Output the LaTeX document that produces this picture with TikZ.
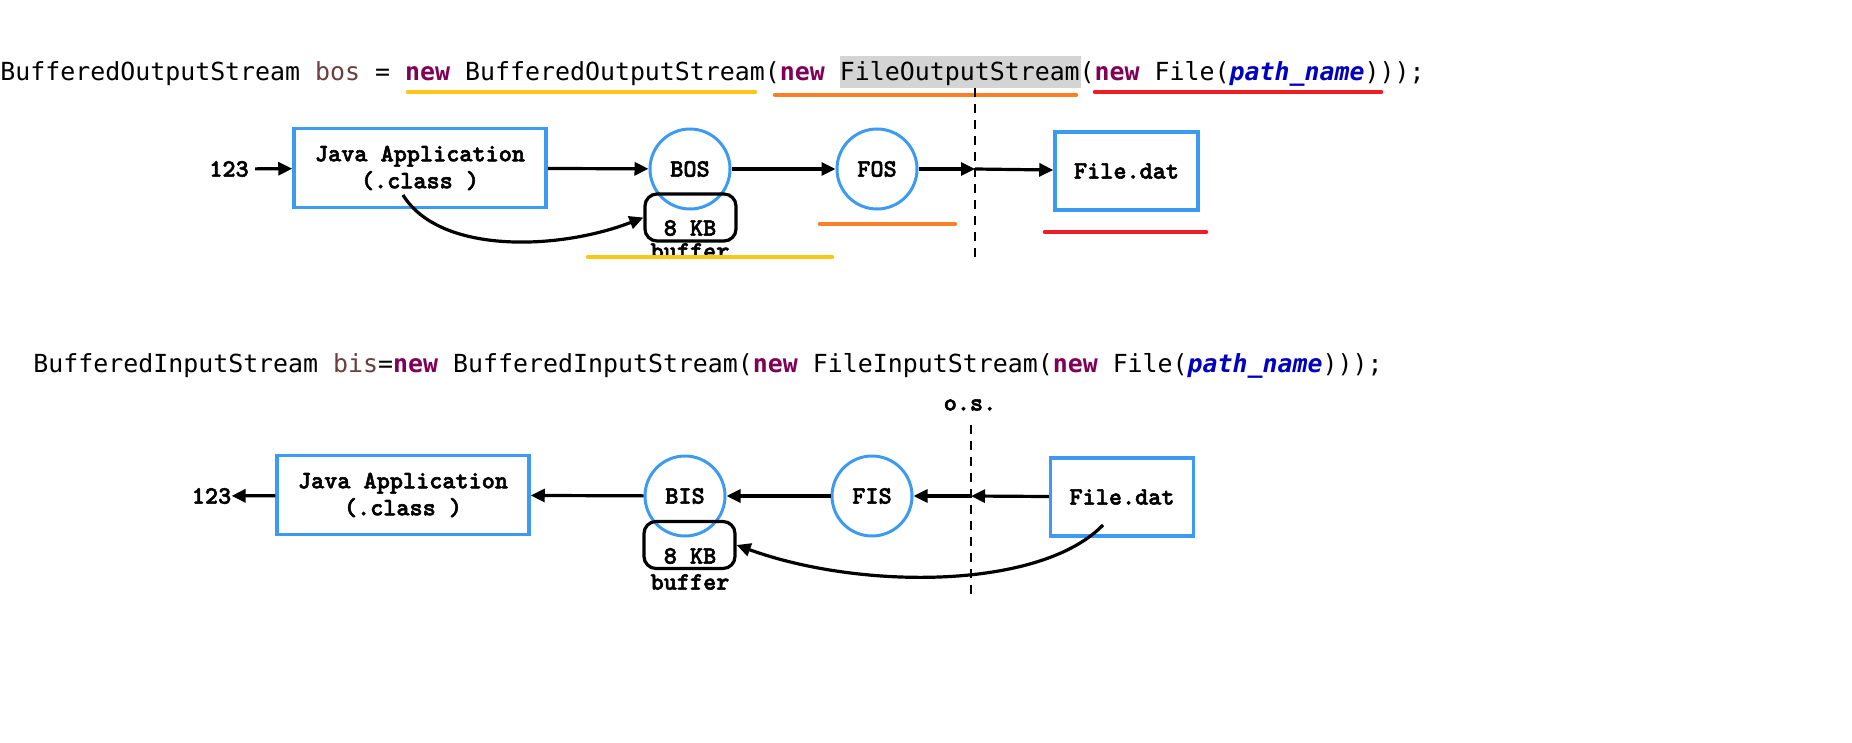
\documentclass[tikz,border=0pt]{standalone}
\usepackage{fontspec}
\usepackage{xcolor}
\usepackage{tikz}
\usetikzlibrary{arrows.meta,calc}

\newfontfamily\codefont{DejaVu Sans Mono}
\newfontfamily\diagfont{lmmonolt10-bold}[Extension=.otf,FakeBold=2.2]
\definecolor{boxblue}{HTML}{3D9AF2}
\definecolor{kwpurple}{HTML}{7F0055}
\definecolor{varbrown}{HTML}{6A3E3E}
\definecolor{argblue}{HTML}{0000C0}
\definecolor{hlgray}{HTML}{D4D4D4}
\definecolor{lineyellow}{HTML}{FFC61A}
\definecolor{lineorange}{HTML}{FA8028}
\definecolor{linered}{HTML}{EE1C25}
\newcommand{\kwnew}{\textcolor{kwpurple}{\bfseries new}}
\newcommand{\patharg}{\textcolor{argblue}{\bfseries\itshape path\_name}}

\tikzset{
  codeline/.style={anchor=base west,inner sep=0pt,font=\codefont\fontsize{12.45}{15}\selectfont},
  lbl/.style={inner sep=0pt,font=\diagfont\fontsize{12.5}{13.5}\selectfont},
  appbox/.style={lbl,draw=boxblue,line width=1.75pt,minimum width=126pt,minimum height=39.5pt,align=center},
  filebox/.style={lbl,draw=boxblue,line width=1.75pt,minimum width=71.5pt,minimum height=39pt},
  stream/.style={lbl,circle,draw=boxblue,line width=1.5pt,minimum size=40pt},
  bufbox/.style={draw,rounded corners=6pt,line width=1.6pt,minimum width=45.5pt,minimum height=23.5pt},
  flow/.style={line width=1.6pt,-{Triangle[length=7pt,width=6.5pt]}},
  osline/.style={line width=1.3pt,dash pattern=on 4.5pt off 3.5pt},
  hiline/.style={line width=2.3pt,line cap=round}
}

\begin{document}
\begin{tikzpicture}[x=0.5pt,y=-0.5pt]
  \useasboundingbox (0,0) rectangle (1852,743);

  % Output side: code line with coloured underlines.
  \fill[hlgray] (840,56) rectangle (1081,88);
  \node[codeline] (codeout) at (0,81) {BufferedOutputStream \textcolor{varbrown}{bos} = \kwnew{} BufferedOutputStream(\kwnew{} FileOutputStream(\kwnew{} File(\patharg)));};
  \draw[hiline,lineyellow] (408,92) -- (755,92);
  \draw[hiline,lineorange] (775,95) -- (1076,95);
  \draw[hiline,linered]    (1095,92) -- (1381,92);

  \node[lbl]    (in1)      at (229,169)    {123};
  \node[appbox] (java1)    at (420,168)    {Java Application\\(.class )};
  \node[stream] (bos)      at (690,169)    {BOS};
  \node[bufbox] (buf1)     at (690.5,217.5) {};
  \node[lbl]    (kb1)      at (690,228)    {8 KB};
  \node[lbl]    (bufname1) at (690,251)    {buffer};
  \node[stream] (fos)      at (877,169)    {FOS};
  \node[filebox](file1)    at (1126.5,171) {File.dat};

  \coordinate (osTop1) at (975,88);
  \coordinate (osBot1) at (975,258);
  \coordinate (osMid1) at (975,169);
  \coordinate (jsrc)   at (403,195);

  \draw[osline] (osTop1) -- (osBot1);
  \draw[flow,shorten <=3pt] (in1) -- (java1);
  \draw[flow] (java1) -- (bos);
  \draw[flow] (bos) -- (fos);
  \draw[flow] (fos) -- (osMid1);
  \draw[flow] (osMid1) -- (file1);
  \draw[flow] (jsrc) .. controls (440,255) and (560,250) .. (buf1.west);

  \draw[hiline,lineorange] (820,224) -- (955,224);
  \draw[hiline,linered]    (1045,232) -- (1206,232);
  \draw[hiline,lineyellow] (588,257) -- (832,257);

  % Input side.
  \node[codeline] (codein) at (33,372) {BufferedInputStream \textcolor{varbrown}{bis}=\kwnew{} BufferedInputStream(\kwnew{} FileInputStream(\kwnew{} File(\patharg)));};
  \node[lbl] (os) at (970,405) {o.s.};

  \node[lbl]    (out2)     at (211.5,496)  {123};
  \node[appbox] (java2)    at (403,495)    {Java Application\\(.class )};
  \node[stream] (bis)      at (685,496)    {BIS};
  \node[bufbox] (buf2)     at (689.5,545)  {};
  \node[lbl]    (kb2)      at (690,556)    {8 KB};
  \node[lbl]    (bufname2) at (690,582)    {buffer};
  \node[stream] (fis)      at (872,496)    {FIS};
  \node[filebox](file2)    at (1122,497)   {File.dat};

  \coordinate (osTop2) at (971,425);
  \coordinate (osBot2) at (971,595);
  \coordinate (osMid2) at (971,496);
  \coordinate (fsrc)   at (1103,525);

  \draw[osline] (osTop2) -- (osBot2);
  \draw[flow] (file2) -- (osMid2);
  \draw[flow] (osMid2) -- (fis);
  \draw[flow] (fis) -- (bis);
  \draw[flow] (bis) -- (java2);
  \draw[flow] (java2) -- (out2);
  \draw[flow] (fsrc) .. controls (1040,590) and (860,590) .. (buf2.east);
\end{tikzpicture}
\end{document}
